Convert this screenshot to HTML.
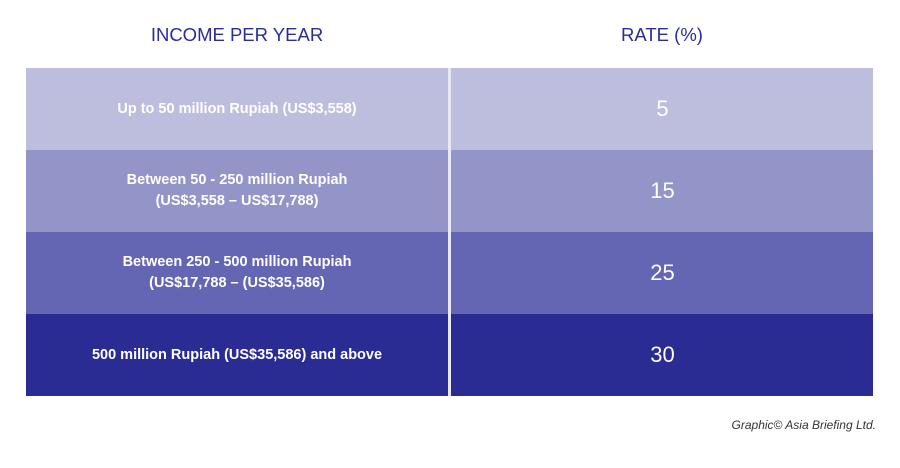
<!DOCTYPE html>
<html><head><style>
body{margin:0;width:900px;height:468px;background:#fff;position:relative;font-family:"Liberation Sans",sans-serif;overflow:hidden}
.h{position:absolute;top:24px;font-size:18.5px;color:#2b2c96;letter-spacing:0;text-align:center}
.r{position:absolute;left:26px;width:847px;height:82px}
.l{position:absolute;left:0;width:422px;height:82px;display:flex;align-items:center;justify-content:center;text-align:center;color:#fff;font-weight:bold;font-size:14.5px;line-height:21px}
.v{position:absolute;left:426px;width:421px;height:82px;display:flex;align-items:center;justify-content:center;color:#fff;font-size:22px;font-weight:300}
.d{position:absolute;left:448px;top:68px;width:3px;height:328px;background:#e8e8f2}
</style></head><body>
<div class="h" style="left:97px;width:280px">INCOME PER YEAR</div>
<div class="h" style="left:562px;width:200px">RATE (%)</div>
<div class="r" style="top:68px;background:#bdbedd"><div class="l">Up to 50 million Rupiah (US$3,558)</div><div class="v">5</div></div>
<div class="r" style="top:150px;background:#9394c7"><div class="l">Between 50 - 250 million Rupiah<br>(US$3,558 – US$17,788)</div><div class="v">15</div></div>
<div class="r" style="top:232px;background:#6566b3"><div class="l">Between 250 - 500 million Rupiah<br>(US$17,788 – (US$35,586)</div><div class="v">25</div></div>
<div class="r" style="top:314px;background:#2a2b93"><div class="l">500 million Rupiah (US$35,586) and above</div><div class="v">30</div></div>
<div class="d"></div>
<div style="position:absolute;right:24px;top:418px;font-size:12px;font-style:italic;color:#333">Graphic© Asia Briefing Ltd.</div>
</body></html>
